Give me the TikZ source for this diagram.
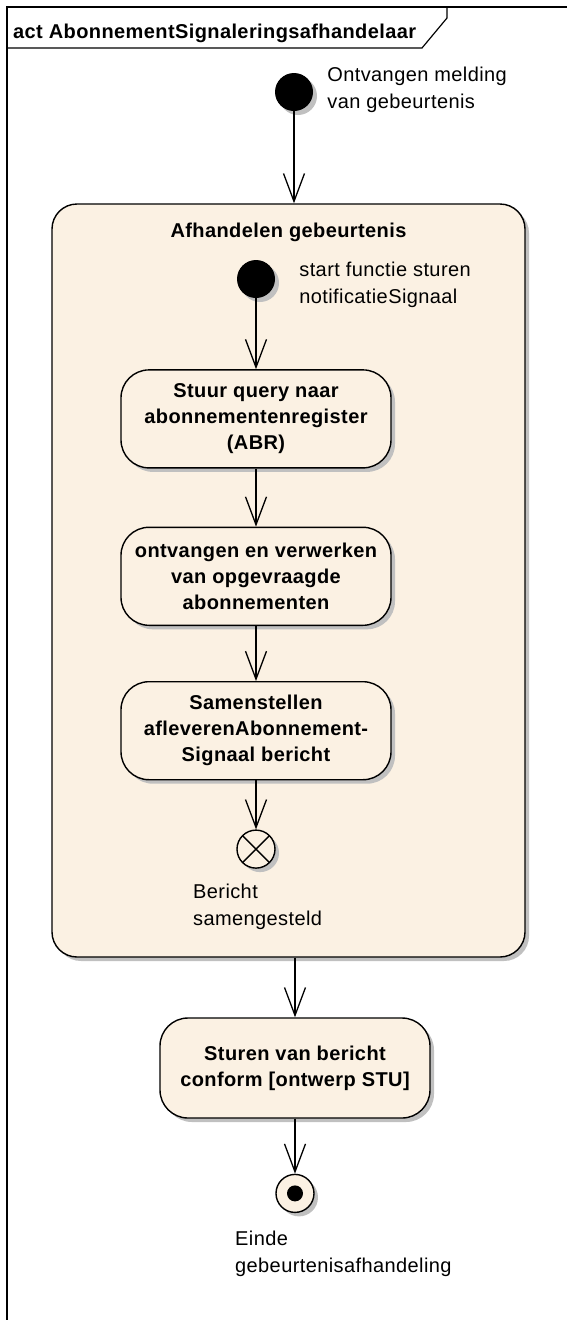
\documentclass[tikz,border=0pt]{standalone}
\usepackage{fontspec}
\setmainfont{Liberation Sans}[LetterSpace=2]
\usetikzlibrary{positioning,arrows.meta,shadows}

\definecolor{actfill}{RGB}{251,241,227}
\definecolor{actshadow}{RGB}{192,192,192}

\tikzset{
  umlshadow/.style={drop shadow={shadow xshift=4pt,shadow yshift=-4pt,fill=actshadow,opacity=1}},
  initial/.style={circle,fill=black,minimum size=38pt,inner sep=0pt,umlshadow},
  flowend/.style={circle,draw,fill=actfill,line width=1.4pt,minimum size=38pt,inner sep=0pt,umlshadow,
    path picture={\draw[black,line width=1.4pt] (path picture bounding box.north west) -- (path picture bounding box.south east)
      (path picture bounding box.north east) -- (path picture bounding box.south west);}},
  final/.style={circle,draw,fill=actfill,line width=1.4pt,minimum size=38pt,inner sep=0pt,umlshadow,
    path picture={\fill[black] (path picture bounding box.center) circle (8pt);}},
  action/.style={draw,fill=actfill,rounded corners=28pt,line width=1.4pt,minimum width=270pt,minimum height=98pt,
    align=center,inner sep=2pt,font=\bfseries\fontsize{20}{26}\selectfont,umlshadow},
  region/.style={draw,fill=actfill,rounded corners=25pt,line width=1.4pt,umlshadow},
  heading/.style={inner sep=0pt,font=\bfseries\fontsize{20}{22}\selectfont},
  note/.style={align=left,inner sep=0pt,font=\fontsize{20}{27}\selectfont},
  flow/.style={line width=1.3pt,-{Straight Barb[length=28pt,width=21pt,line width=1.3pt]}},
}

\begin{document}
\begin{tikzpicture}[x=1pt,y=-1pt]

    \useasboundingbox (0,0) rectangle (567,1320);

    % Frame
    \draw[line width=1.3pt] (567,7) -- (7,7) -- (7,1320);
    \draw[line width=1.2pt] (7,48) -- (422,48) -- (447,18) -- (447,7);
    \node[heading, anchor=west] (frame-title) at (13,33) {act AbonnementSignaleringsafhandelaar};

    % Define nodes
    \node[initial]                              (start) at (294,92) {};
    \node[note, right=14pt of start, yshift=2pt] (start-label) {Ontvangen melding\\van gebeurtenis};

    \node[region, minimum width=473pt, minimum height=753pt] (afhandelen) at (288.5,580.5) {};
    \node[heading, below=20pt of afhandelen.north] (afhandelen-title) {Afhandelen gebeurtenis};

    \node[initial]                              (init-b) at (256,279) {};
    \node[note, right=24pt of init-b, yshift=-6pt] (init-b-label) {start functie sturen\\notificatieSignaal};
    \node[action, below=71pt of init-b]          (query) {Stuur query naar\\abonnementenregister\\(ABR)};
    \node[action, below=58pt of query]           (verwerken) {ontvangen en verwerken\\van opgevraagde\\abonnementen};
    \node[action, below=55pt of verwerken]       (samenstellen) {Samenstellen\\afleverenAbonnement-\\Signaal bericht};
    \node[flowend, below=49pt of samenstellen]   (flow-end) {};
    \node[note, anchor=west]                     (flow-end-label) at (193,907) {Bericht\\samengesteld};

    \node[action, minimum height=100pt]          (sturen) at (295,1068) {Sturen van bericht\\conform [ontwerp STU]};
    \node[final, below=55pt of sturen]           (einde) {};
    \node[note, anchor=west]                     (einde-label) at (235,1254) {Einde\\gebeurtenisafhandeling};

    % Connect the nodes
    \draw[flow] (start) -- (start |- afhandelen.north);
    \draw[flow] (init-b) -- (query);
    \draw[flow] (query) -- (verwerken);
    \draw[flow] (verwerken) -- (samenstellen);
    \draw[flow] (samenstellen) -- (flow-end);
    \draw[flow] (afhandelen.south -| sturen) -- (sturen);
    \draw[flow] (sturen) -- (einde);

\end{tikzpicture}
\end{document}
